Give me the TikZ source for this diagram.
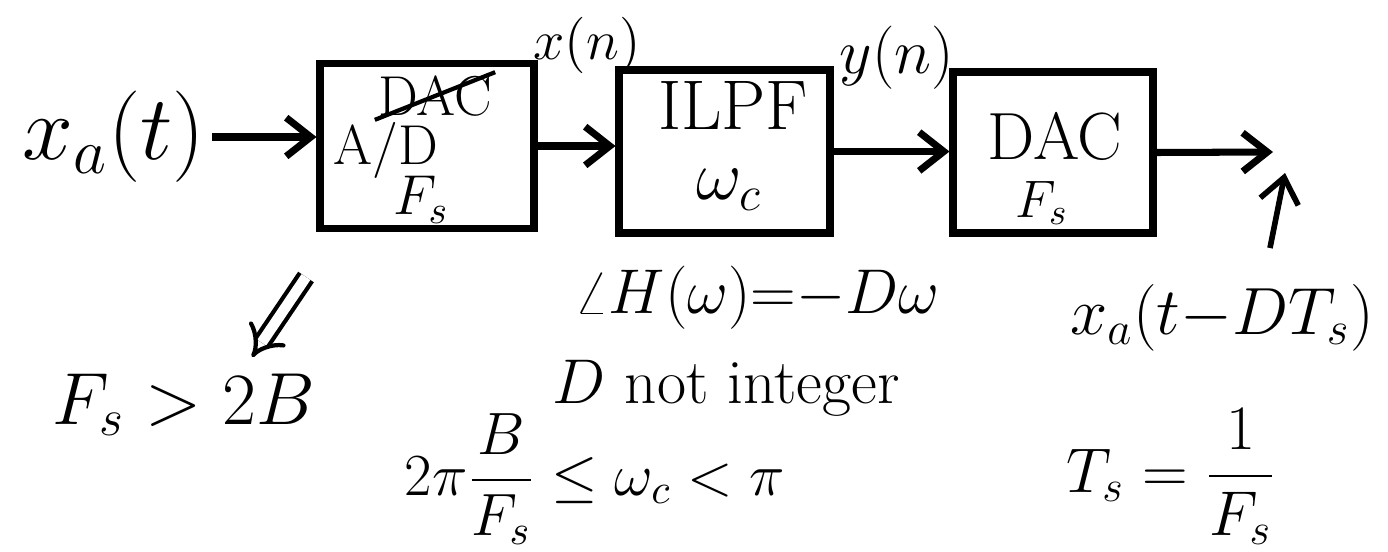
\RequirePackage{fix-cm}
\documentclass[tikz,border=0pt]{standalone}
\usepackage{amsmath}
\usetikzlibrary{arrows.meta,positioning}
\newcommand{\fsz}[1]{\fontsize{#1}{#1}\selectfont}
\begin{document}
\begin{tikzpicture}[line width=2pt,
  blk/.style={draw,inner sep=0pt},
  sig/.style={-{Straight Barb[length=7pt,width=11pt]}},
  txt/.style={inner sep=1pt},
  intxt/.style={inner sep=0pt}]
 \useasboundingbox (0,0) rectangle (13.88,-5.51);
 % chain of blocks
 \node[txt,font=\fsz{26}] (xa) at (1.14,-1.37) {$x_a(t)$};
 \node[blk,minimum width=2.14cm,minimum height=1.65cm] (adc) at (4.27,-1.46) {};
 \node[blk,minimum width=2.11cm,minimum height=1.63cm] (lpf) at (7.245,-1.515) {};
 \node[blk,minimum width=2cm,minimum height=1.61cm] (dac) at (10.53,-1.525) {};
 \coordinate (out) at (12.73,-1.52);
 % block texts
 \node[intxt,font=\fsz{16}] (adold) at (4.35,-0.96) {DAC};
 \draw[line width=1.2pt] (adold.south west) -- (adold.north east);
 \node[intxt,font=\fsz{16}] (adname) at (3.86,-1.5) {A/D};
 \node[intxt,font=\fsz{16}] (adfs) at (4.21,-2.0) {$F_s$};
 \node[intxt,font=\fsz{20}] (lpfname) at (7.33,-1.05) {ILPF};
 \node[intxt,font=\fsz{20}] (lpfwc) at (7.29,-1.9) {$\omega_c$};
 \node[intxt,font=\fsz{19}] (dacname) at (10.55,-1.36) {DAC};
 \node[intxt,font=\fsz{15}] (dacfs) at (10.42,-2.03) {$F_s$};
 % signals
 \draw[sig] (xa.east) -- (xa.east -| adc.west);
 \draw[sig] (adc.east) -- (adc.east -| lpf.west);
 \draw[sig] (lpf.east) -- (lpf.east -| dac.west);
 \draw[sig] (dac.east) -- (out);
 \node[txt,font=\fsz{16}] (xn) at (5.87,-0.45) {$x(n)$};
 \node[txt,font=\fsz{18}] (yn) at (8.97,-0.58) {$y(n)$};
 % notes
 \node[txt,font=\fsz{19}] (xd) at (12.22,-3.18) {$x_a(t{-}DT_s)$};
 \coordinate (up0) at (12.70,-2.48);
 \coordinate (up1) at (12.85,-1.73);
 \draw[sig,line width=1.6pt] (up0) -- (up1);
 \coordinate (hint0) at (3.06,-2.77);
 \coordinate (hint1) at (2.52,-3.57);
 \draw[double,double distance=3pt,line width=1.2pt,-{Implies}] (hint0) -- (hint1);
 \node[txt,font=\fsz{21}] (fsb) at (1.84,-4.05) {$F_s>2B$};
 \node[txt,font=\fsz{18}] (phase) at (7.57,-2.98) {$\angle H(\omega){=}{-}D\omega$};
 \node[txt,font=\fsz{18}] (dint) at (7.26,-3.88) {$D$ not integer};
 \node[txt,font=\fsz{17},anchor=base] (cond) at (5.95,-4.95) {$2\pi\dfrac{B}{F_s}\le\omega_c<\pi$};
 \node[txt,font=\fsz{18},anchor=base] (ts) at (11.71,-4.92) {$T_s=\dfrac{1}{F_s}$};
\end{tikzpicture}
\end{document}
